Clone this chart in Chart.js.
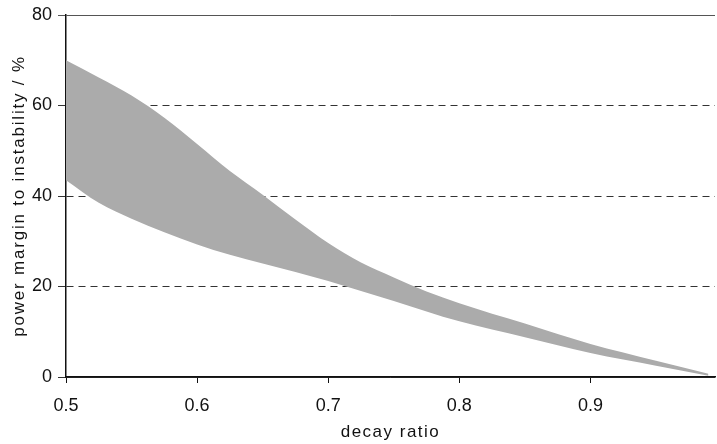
<!DOCTYPE html>
<html>
<head>
<meta charset="utf-8">
<script src="https://cdn.jsdelivr.net/npm/chart.js@4"></script>
<style>
  html, body { margin: 0; padding: 0; background: #fff; }
  #wrap { width: 717px; height: 444px; }
</style>
</head>
<body>
<div id="wrap"><canvas id="chart" width="717" height="444"></canvas></div>
<script>
// decay ratio values along the band
const decayRatio = [0.5, 0.525, 0.55, 0.575, 0.6, 0.625, 0.65, 0.675, 0.7, 0.725, 0.75, 0.775, 0.8, 0.85, 0.9, 0.95, 0.99];
// upper and lower edge of the shaded band (power margin, %)
const marginUpper = [70, 66.2, 62.2, 57.3, 51.5, 45.5, 40.3, 34.8, 29.6, 25.3, 22, 18.9, 16.3, 11.8, 7.3, 3.6, 0.7];
const marginLower = [43.5, 38.5, 35, 32, 29.3, 27, 25.1, 23.2, 21.2, 19, 16.8, 14.5, 12.3, 8.8, 5.3, 2.5, 0.3];
const xTicks = [0.5, 0.6, 0.7, 0.8, 0.9];
const yTicks = [0, 20, 40, 60, 80];

const font = "'Liberation Sans', Arial, Helvetica, sans-serif";

const upperPts = decayRatio.map((x, i) => ({ x: x, y: marginUpper[i] }));
const lowerPts = decayRatio.map((x, i) => ({ x: x, y: marginLower[i] }));

// titles in the figure are a bit spaced out
const spacedTitles = {
    id: 'spacedTitles',
    beforeDraw(chart) {
        [['x', '1.5px'], ['y', '1.8px']].forEach(([id, ls]) => {
            const s = chart.scales[id];
            if (!s || s._spaced) return;
            const orig = s.drawTitle;
            s.drawTitle = function () {
                const ctx = this.ctx;
                ctx.save();
                ctx.letterSpacing = ls;
                orig.apply(this, arguments);
                ctx.restore();
            };
            s._spaced = true;
        });
    }
};

new Chart(document.getElementById('chart'), {
    type: 'line',
    data: {
        datasets: [
            {
                data: upperPts,
                borderWidth: 0,
                borderColor: 'rgba(0,0,0,0)',
                backgroundColor: '#ababab',
                pointRadius: 0,
                cubicInterpolationMode: 'monotone',
                fill: '+1'
            },
            {
                data: lowerPts,
                borderWidth: 0,
                borderColor: 'rgba(0,0,0,0)',
                pointRadius: 0,
                cubicInterpolationMode: 'monotone',
                fill: false
            }
        ]
    },
    plugins: [spacedTitles],
    options: {
        responsive: false,
        animation: false,
        layout: { padding: { top: 14, right: 2, left: 0, bottom: 0 } },
        plugins: { legend: { display: false }, tooltip: { enabled: false } },
        scales: {
            x: {
                type: 'linear',
                min: 0.5,
                max: 0.995,
                afterBuildTicks: s => { s.ticks = xTicks.map(v => ({ value: v })); },
                afterFit: s => { s.height = 67; },
                ticks: {
                    color: '#111',
                    font: { family: font, size: 18 },
                    padding: 12,
                    maxRotation: 0,
                    callback: v => v.toFixed(1)
                },
                grid: { drawOnChartArea: false, tickLength: 6, color: '#111' },
                border: { color: '#111', width: 1.5 },
                title: {
                    display: true,
                    text: 'decay ratio',
                    color: '#111',
                    font: { family: font, size: 17 },
                    padding: { top: 2, bottom: 1 }
                }
            },
            y: {
                min: 0,
                max: 80,
                afterBuildTicks: s => { s.ticks = yTicks.map(v => ({ value: v })); },
                afterFit: s => { s.width = 66; },
                ticks: {
                    color: '#111',
                    font: { family: font, size: 18, lineHeight: 1 },
                    padding: 6
                },
                grid: {
                    tickLength: 8,
                    color: ctx => ctx.tick && ctx.tick.value === 80 ? '#555' : '#333',
                    lineWidth: 1
                },
                border: {
                    color: '#111',
                    width: 1.5,
                    dash: ctx => (ctx.tick && (ctx.tick.value === 80 || ctx.tick.value === 0)) ? [] : [7, 5]
                },
                title: {
                    display: true,
                    text: 'power margin to instability / %',
                    color: '#111',
                    font: { family: font, size: 17 },
                    padding: { top: 9, bottom: 0 }
                }
            }
        }
    }
});
</script>
</body>
</html>
